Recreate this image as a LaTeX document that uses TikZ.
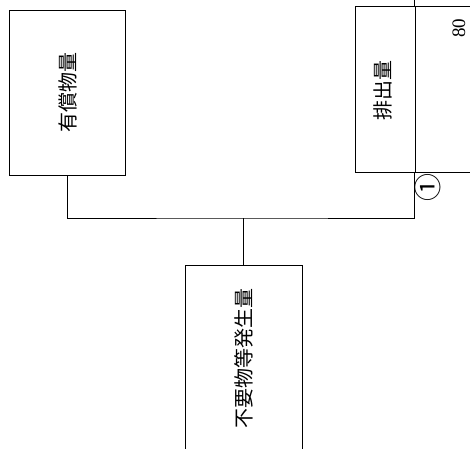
\documentclass[tikz,border=0pt]{standalone}
\usepackage{fontspec}
\setmainfont{Liberation Serif}
\newfontfamily\jp{Noto Sans CJK JP}
\begin{document}
\begin{tikzpicture}[x=1pt,y=-1pt,
  box/.style={draw, line width=0.9pt, inner sep=0pt},
  vlabel/.style={rotate=90, font=\jp\fontsize{20}{20}\selectfont, inner sep=0pt},
  conn/.style={draw, line width=0.9pt}]
\clip (0,0) rectangle (470,448);
\fill[white] (0,0) rectangle (470,448);
% boxes
\node[box, minimum width=116pt, minimum height=165pt] (b1) at (67.5,92.5) {};
\node[vlabel] (t1) at (b1.center) {有償物量};
\node[box, minimum width=60pt, minimum height=166pt] (b2) at (385,89) {};
\node[vlabel] (t2) at (383,90) {排出量};
\node[box, minimum width=80pt, minimum height=166pt] (rb) at (455,89) {};
\node[rotate=90, font=\fontsize{19}{19}\selectfont, inner sep=0pt] (n80) at (459,28) {80};
\node[box, minimum width=117pt, minimum height=186pt] (b3) at (243.5,358) {};
\node[vlabel] (t3) at (b3.center) {不要物等発生量};
\node[rotate=90, font=\jp\fontsize{28}{28}\selectfont, inner sep=0pt] (c1) at (428,187) {①};
% connectors
\coordinate (j) at (243.5,218);
\draw[conn] (rb.north west) -- ++(0,-10);
\draw[conn] (b1.south) |- (j) -| (rb.south west);
\draw[conn] (b3.north) -- (j);
\end{tikzpicture}
\end{document}
